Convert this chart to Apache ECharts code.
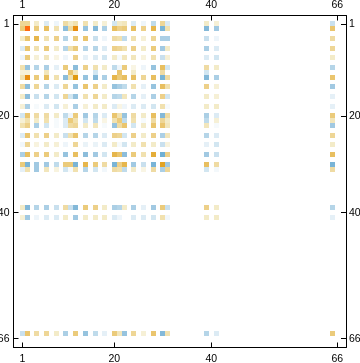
<!DOCTYPE html>
<html>
<head>
<meta charset="utf-8">
<style>
  html, body { margin: 0; padding: 0; background: #fff; }
  #chart { width: 360px; height: 363px; }
</style>
<script src="https://cdn.jsdelivr.net/npm/echarts@6/dist/echarts.min.js"></script>
</head>
<body>
<div id="chart"></div>
<script>
// matrix indices that hold anything, everything else is blank
const indices = [1, 2, 4, 6, 8, 10, 11, 12, 14, 16, 18, 20, 21, 22, 24, 26, 28, 30, 31, 39, 41, 65]
const tickValues = [1, 20, 40, 66]

// one line per row, one value per entry of indices
const cellValues = [
  [.4, .4, .2, -.2, -.1, .35, .2, .3, .3, .2, .15, -.25, .2, .25, -.2, -.1, -.35, .4, -.2, .2, .15, -.3],
  [.5, 1, .5, .6, .3, -.6, .35, .85, -.55, -.65, -.45, .6, .45, .5, .6, .45, .65, -.7, .3, -.65, -.5, .55],
  [.2, .55, .65, .3, .45, -.4, 0, .5, .55, -.3, -.1, .35, .3, -.35, .3, .15, .4, -.45, -.45, -.3, -.1, .35],
  [-.2, .55, .3, .5, .2, -.4, .3, .5, -.4, -.4, -.2, .45, .4, .3, .45, .2, .5, -.5, .2, -.45, -.2, .4],
  [-.1, .5, .15, .25, .1, -.1, 0, .45, -.15, -.2, -.25, .2, -.05, .25, .25, .12, .3, -.3, .15, -.2, -.25, .2],
  [.3, -.55, -.4, -.45, -.15, .5, 0, -.6, .45, .3, .2, -.35, -.1, .5, .1, -.1, -.55, .6, -.25, .35, .2, -.4],
  [.15, .15, 0, .25, 0, 0, .55, .25, 0, -.25, 0, 0, .55, 0, .2, 0, 0, .35, 0, -.25, 0, 0],
  [.3, .85, .5, .6, .3, -.6, .3, .8, -.55, -.65, -.45, .65, .5, .6, .6, .4, .6, -.7, .35, -.65, -.45, .55],
  [.35, -.6, .4, -.4, -.2, .4, 0, -.55, .55, .45, .2, -.55, -.45, -.35, .3, -.15, -.55, .6, .3, .45, .15, -.5],
  [.2, -.6, -.3, -.4, -.25, .4, -.25, -.55, .3, .4, .2, -.4, -.35, .25, -.4, -.15, -.45, .45, -.25, .2, .15, -.15],
  [.15, -.45, -.05, -.2, -.25, .15, 0, -.45, .15, .2, .2, -.2, .1, -.1, -.2, -.2, -.25, .3, -.05, .2, .2, -.15],
  [-.25, .55, .35, .35, .2, -.35, -.1, .5, -.5, -.4, -.2, .55, .3, -.55, .35, .2, .6, -.65, .35, -.45, -.2, .5],
  [.15, .3, .2, .3, -.05, -.2, .5, .3, -.25, -.35, .1, .3, .5, -.35, .3, -.05, .35, .4, .2, -.35, .15, .25],
  [.3, .45, -.45, -.25, -.05, -.2, .35, .4, .2, .25, -.05, -.55, .35, .55, -.25, .2, .55, .55, .25, .25, -.05, -.5],
  [-.2, .55, .3, .45, .2, -.3, .3, .55, -.4, -.4, -.2, .45, .4, -.25, .45, .2, .45, -.45, .25, -.4, -.2, .4],
  [-.08, .4, .12, .2, .15, -.1, 0, .4, -.12, -.12, -.2, .2, -.05, -.25, .2, .3, .2, -.3, .12, -.15, -.25, .2],
  [-.45, .6, .45, .5, .2, -.55, 0, .6, -.6, -.5, -.25, .65, .55, -.6, .5, .3, .7, -.75, .45, -.5, -.3, .6],
  [.5, -.7, -.5, -.5, -.35, .5, .5, -.7, .65, .5, .35, -.7, .45, .65, -.5, -.3, -.7, .75, -.5, .6, .35, -.7],
  [-.15, .3, -.5, .25, .12, -.25, -.05, .3, -.4, -.25, -.08, .35, .3, -.35, .2, .1, .35, -.45, .4, -.25, -.07, .35],
  [.2, -.65, -.4, -.45, -.3, .35, -.3, -.65, .5, .45, .2, -.45, -.4, .2, -.45, -.15, -.5, .5, -.3, .45, .2, -.4],
  [.15, -.5, -.1, -.2, -.2, .2, 0, -.5, .2, .2, .2, -.2, -.1, 0, -.2, -.2, -.25, .3, -.08, .2, .2, -.15],
  [-.3, .55, .35, .4, .2, -.45, 0, .5, -.55, -.35, -.15, .5, .25, -.55, .4, .15, .55, -.65, .3, -.4, -.2, .5]
]

const colorStops = ['#3f96c4', '#66aad0', '#8cbddb', '#b5d5e8', '#dcebf4', '#ffffff', '#f3ebc8', '#eed696', '#e8bf60', '#e09a10', '#ff6a10']

const cells = []
cellValues.forEach((line, r) => {
  line.forEach((v, c) => {
    if (v !== 0) cells.push([indices[c], indices[r], v])
  })
})

function makeAxis(position, min, max, inverse, margin) {
  return {
    type: 'value',
    position: position,
    min: min,
    max: max,
    inverse: inverse,
    splitLine: { show: false },
    axisLine: { show: true, onZero: false, lineStyle: { color: '#000', width: 1 } },
    axisTick: { show: true, inside: true, length: 5, customValues: tickValues, lineStyle: { color: '#000', width: 1 } },
    axisLabel: { show: true, customValues: tickValues, margin: margin, color: '#000', fontFamily: 'Liberation Sans', fontSize: 10.5 }
  }
}

const chart = echarts.init(document.getElementById('chart'), null, { renderer: 'canvas' })
chart.setOption({
  animation: false,
  backgroundColor: '#fff',
  grid: { left: 13.5, top: 15.5, width: 332.5, height: 332, outerBoundsMode: 'none' },
  xAxis: [makeAxis('bottom', -0.816, 67.81, false, 6), makeAxis('top', -0.816, 67.81, false, 5)],
  yAxis: [makeAxis('left', -0.713, 67.83, true, 4), makeAxis('right', -0.713, 67.83, true, 3)],
  visualMap: {
    show: false,
    min: -1,
    max: 1,
    dimension: 2,
    seriesIndex: 0,
    inRange: { color: colorStops }
  },
  series: [{
    type: 'custom',
    coordinateSystem: 'cartesian2d',
    data: cells,
    encode: { x: 0, y: 1 },
    renderItem: function (params, api) {
      const p = api.coord([api.value(0), api.value(1)])
      const size = api.size([1, 1])
      // whole pixels, every cell the same size
      const w = Math.ceil(size[0])
      const h = Math.ceil(size[1])
      return {
        type: 'rect',
        shape: { x: Math.round(p[0] - size[0] / 2), y: Math.round(p[1] - size[1] / 2), width: w, height: h },
        style: { fill: api.visual('color') }
      }
    }
  }]
})
</script>
</body>
</html>
